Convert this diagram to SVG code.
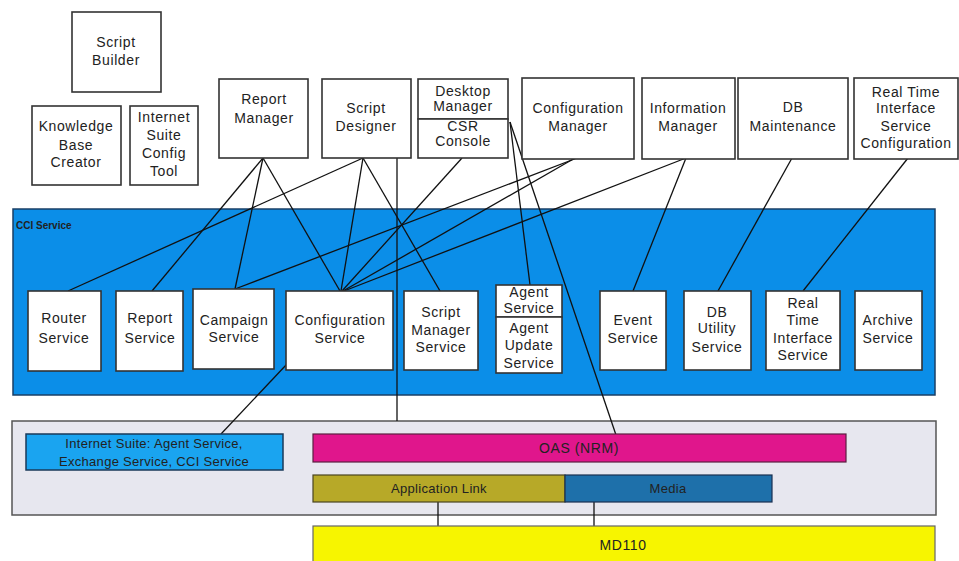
<svg xmlns="http://www.w3.org/2000/svg" width="959" height="561" viewBox="0 0 959 561">
<style>
text{font-family:"Liberation Sans",Arial,sans-serif;font-size:14px;fill:#222;text-anchor:middle;letter-spacing:0.6px}
.box{fill:#fff;stroke:#333;stroke-width:1.6}
.cn line{stroke:#111;stroke-width:1.3}
.sm{font-size:13px;letter-spacing:0.3px}
</style>
<rect width="959" height="561" fill="#fff"/>
<!-- containers -->
<g id="cci-service">
<rect x="13" y="209" width="922" height="186" fill="#0b8ee8" stroke="#1a3f66" stroke-width="1.5"/>
<text x="16" y="229" style="font-size:10px;font-weight:bold;text-anchor:start;letter-spacing:0">CCI Service</text>
</g>
<g id="platform">
<rect x="12" y="421" width="924" height="94" fill="#e7e7ef" stroke="#555" stroke-width="1.5"/>
</g>
<!-- connectors -->
<g id="connectors" class="cn">
<line x1="263" y1="158" x2="152" y2="291"/>
<line x1="263" y1="158" x2="235" y2="289"/>
<line x1="263" y1="158" x2="340" y2="291"/>
<line x1="363" y1="158" x2="68" y2="291"/>
<line x1="363" y1="158" x2="341" y2="291"/>
<line x1="363" y1="158" x2="440" y2="291"/>
<line x1="397" y1="158" x2="397" y2="421"/>
<line x1="462" y1="158" x2="342" y2="291"/>
<line x1="577" y1="158" x2="235" y2="289"/>
<line x1="575" y1="158" x2="343" y2="291"/>
<line x1="686" y1="158" x2="344" y2="291"/>
<line x1="686" y1="158" x2="633" y2="291"/>
<line x1="792" y1="158" x2="718" y2="291"/>
<line x1="908" y1="158" x2="803" y2="291"/>
<line x1="510" y1="122" x2="530" y2="285"/>
<line x1="510" y1="122" x2="616" y2="435"/>
<line x1="287" y1="364" x2="221" y2="434"/>
<line x1="438" y1="502" x2="438" y2="526"/>
<line x1="594" y1="502" x2="594" y2="526"/>
</g>
<!-- top nodes -->
<g id="script-builder"><rect class="box" x="72" y="12" width="89" height="80"/><text x="116" y="47">Script</text><text x="116" y="65">Builder</text></g>
<g id="knowledge-base-creator"><rect class="box" x="32" y="106" width="89" height="79"/><text x="76" y="131">Knowledge</text><text x="76" y="150">Base</text><text x="76" y="167">Creator</text></g>
<g id="internet-suite-config-tool"><rect class="box" x="130" y="106" width="68" height="79"/><text x="164" y="122">Internet</text><text x="164" y="140">Suite</text><text x="164" y="158">Config</text><text x="164" y="176">Tool</text></g>
<g id="report-manager"><rect class="box" x="219" y="79" width="89" height="79"/><text x="264" y="104">Report</text><text x="264" y="123">Manager</text></g>
<g id="script-designer"><rect class="box" x="322" y="79" width="89" height="79"/><text x="366" y="113">Script</text><text x="366" y="131">Designer</text></g>
<g id="desktop-manager"><rect class="box" x="418" y="79" width="90" height="40"/><text x="463" y="96">Desktop</text><text x="463" y="111">Manager</text></g>
<g id="csr-console"><rect class="box" x="418" y="119" width="90" height="39"/><text x="463" y="131">CSR</text><text x="463" y="146">Console</text></g>
<g id="configuration-manager"><rect class="box" x="522" y="78" width="112" height="81"/><text x="578" y="113">Configuration</text><text x="578" y="131">Manager</text></g>
<g id="information-manager"><rect class="box" x="642" y="78" width="93" height="81"/><text x="688" y="113">Information</text><text x="688" y="131">Manager</text></g>
<g id="db-maintenance"><rect class="box" x="738" y="78" width="110" height="81"/><text x="793" y="112">DB</text><text x="793" y="131">Maintenance</text></g>
<g id="rti-service-configuration"><rect class="box" x="854" y="78" width="104" height="81"/><text x="906" y="97">Real Time</text><text x="906" y="113">Interface</text><text x="906" y="131">Service</text><text x="906" y="148">Configuration</text></g>
<!-- services -->
<g id="router-service"><rect class="box" x="28" y="291" width="73" height="80"/><text x="64" y="323">Router</text><text x="64" y="343">Service</text></g>
<g id="report-service"><rect class="box" x="116" y="291" width="67" height="80"/><text x="150" y="323">Report</text><text x="150" y="343">Service</text></g>
<g id="campaign-service"><rect class="box" x="193" y="289" width="81" height="80"/><text x="234" y="325">Campaign</text><text x="234" y="342">Service</text></g>
<g id="configuration-service"><rect class="box" x="286" y="291" width="107" height="79"/><text x="340" y="325">Configuration</text><text x="340" y="343">Service</text></g>
<g id="script-manager-service"><rect class="box" x="404" y="291" width="74" height="79"/><text x="441" y="317">Script</text><text x="441" y="335">Manager</text><text x="441" y="352">Service</text></g>
<g id="agent-service"><rect class="box" x="496" y="285" width="66" height="32"/><text x="529" y="297">Agent</text><text x="529" y="313">Service</text></g>
<g id="agent-update-service"><rect class="box" x="496" y="317" width="66" height="56"/><text x="529" y="333">Agent</text><text x="529" y="350">Update</text><text x="529" y="368">Service</text></g>
<g id="event-service"><rect class="box" x="600" y="291" width="66" height="79"/><text x="633" y="325">Event</text><text x="633" y="343">Service</text></g>
<g id="db-utility-service"><rect class="box" x="684" y="291" width="67" height="79"/><text x="717" y="317">DB</text><text x="717" y="333">Utility</text><text x="717" y="352">Service</text></g>
<g id="rti-service"><rect class="box" x="766" y="291" width="74" height="79"/><text x="803" y="308">Real</text><text x="803" y="325">Time</text><text x="803" y="343">Interface</text><text x="803" y="360">Service</text></g>
<g id="archive-service"><rect class="box" x="855" y="291" width="67" height="79"/><text x="888" y="325">Archive</text><text x="888" y="343">Service</text></g>
<!-- platform -->
<g id="internet-suite"><rect x="26" y="434" width="257" height="36" fill="#1aa4f0" stroke="#1a3a5a" stroke-width="1.5"/><text class="sm" x="154" y="448">Internet Suite: Agent Service,</text><text class="sm" x="154" y="466">Exchange Service, CCI Service</text></g>
<g id="oas-nrm"><rect x="313" y="434" width="533" height="28" fill="#e0168c" stroke="#5a2040" stroke-width="1.2"/><text x="579" y="453">OAS (NRM)</text></g>
<g id="application-link"><rect x="313" y="475" width="252" height="27" fill="#b7a928" stroke="#4a4520" stroke-width="1.2"/><text class="sm" x="439" y="493">Application Link</text></g>
<g id="media"><rect x="565" y="475" width="207" height="27" fill="#1e70aa" stroke="#1a3050" stroke-width="1.2"/><text class="sm" x="668" y="493">Media</text></g>
<g id="md110"><rect x="313" y="526" width="622" height="40" fill="#f7f500" stroke="#666" stroke-width="1.2"/><text x="623" y="550">MD110</text></g>
</svg>
